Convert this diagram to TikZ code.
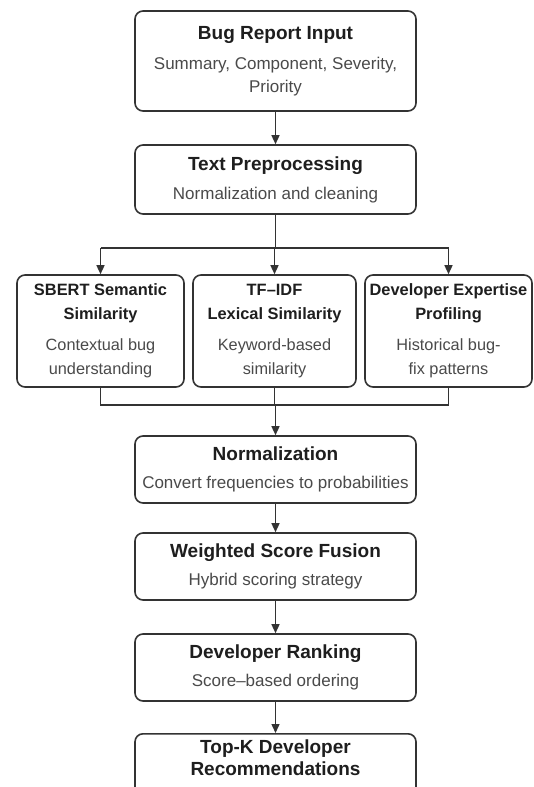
\documentclass[tikz,border=0pt]{standalone}
\usepackage{fontspec}
\setmainfont{Liberation Sans}
\usetikzlibrary{arrows.meta}
\definecolor{edge}{HTML}{333333}
\definecolor{headc}{HTML}{1E1E1E}
\definecolor{subc}{HTML}{4A4A4A}
\newcommand{\headfont}{\fontsize{19}{23}\selectfont\bfseries\color{headc}}
\newcommand{\subfont}{\fontsize{17}{23}\selectfont\color{subc}}
\newcommand{\sheadfont}{\fontsize{16.4}{24}\selectfont\bfseries\color{headc}}
\newcommand{\ssubfont}{\fontsize{16.3}{24}\selectfont\color{subc}}
\tikzset{
  box/.style={draw=edge, line width=1.6pt, rounded corners=8pt, fill=white,
    align=center, inner sep=0pt, minimum width=281pt,
    font=\fontsize{17}{23}\selectfont},
  sbox/.style={box, minimum width=167pt, minimum height=112pt,
    font=\fontsize{16.3}{24}\selectfont},
  link/.style={draw=edge, line width=1.4pt},
  flow/.style={link, -{Triangle[length=9pt,width=8pt]}}
}
\begin{document}
\begin{tikzpicture}[x=1pt,y=-1pt]
\useasboundingbox (0,0) rectangle (533,787);
\clip (0,0) rectangle (533,787);
\fill[white] (0,0) rectangle (533,787);

% main column
\node[box, minimum height=100pt] (input) at (275.5,61)
  {\headfont Bug Report Input\\[7pt]
   \subfont Summary, Component, Severity,\\ \subfont Priority};
\node[box, minimum height=69pt] (prep) at (275.5,179.5)
  {\headfont Text Preprocessing\\[6pt]
   \subfont Normalization and cleaning};

% three parallel scorers
\node[sbox] (sbert) at (100.5,331)
  {\sheadfont SBERT Semantic\\ \sheadfont Similarity\\[7pt]
   \ssubfont Contextual bug\\ \ssubfont understanding};
\node[sbox, minimum width=163pt] (tfidf) at (274.5,331)
  {\sheadfont TF--IDF\\ \sheadfont Lexical Similarity\\[7pt]
   \ssubfont Keyword-based\\ \ssubfont similarity};
\node[sbox] (expert) at (448.5,331)
  {\sheadfont Developer Expertise\\ \sheadfont Profiling\\[7pt]
   \ssubfont Historical bug-\\ \ssubfont fix patterns};

% rest of the pipeline
\node[box, minimum height=67pt] (norm) at (275.5,469.5)
  {\headfont Normalization\\[5pt]
   \subfont Convert frequencies to probabilities};
\node[box, minimum height=67pt] (fuse) at (275.5,566.5)
  {\headfont Weighted Score Fusion\\[5pt]
   \subfont Hybrid scoring strategy};
\node[box, minimum height=67pt] (rank) at (275.5,667.5)
  {\headfont Developer Ranking\\[5pt]
   \subfont Score--based ordering};
\node[box, minimum height=70pt, text depth=22pt, anchor=north,
  font=\fontsize{19}{22}\selectfont] (topk) at (275.5,733)
  {\headfont Top-K Developer\\ \headfont Recommendations};

% split and merge points
\coordinate (split) at (275.5,248);
\coordinate (merge) at (275.5,405);

\path[flow] (input) -- (prep);
\path[link] (prep.south) -- (split);
\path[link] (sbert.north |- split) -- (expert.north |- split);
\path[flow] (sbert.north |- split) -- (sbert.north);
\path[flow] (tfidf.north |- split) -- (tfidf.north);
\path[flow] (expert.north |- split) -- (expert.north);

\path[link] (sbert.south) -- (sbert.south |- merge) -- (expert.south |- merge) -- (expert.south);
\path[link] (tfidf.south) -- (tfidf.south |- merge);
\path[flow] (merge) -- (norm.north);
\path[flow] (norm) -- (fuse);
\path[flow] (fuse) -- (rank);
\path[flow] (rank) -- (topk);
\end{tikzpicture}
\end{document}
